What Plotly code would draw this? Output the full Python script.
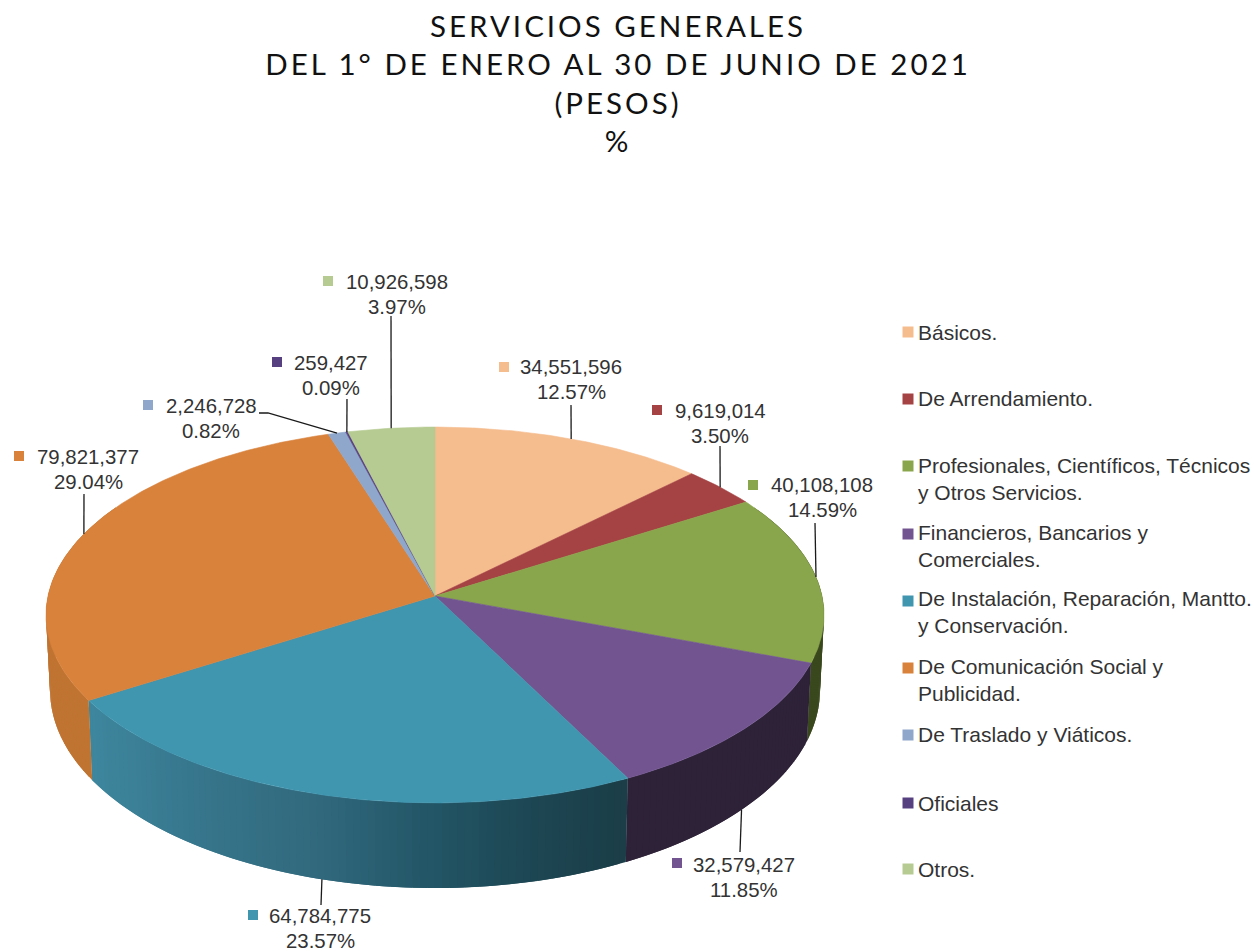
import numpy as np
import plotly.graph_objects as go

# ---------- data ----------
categories = ["Básicos.", "De Arrendamiento.", "Profesionales, Científicos, Técnicos<br>y Otros Servicios.",
              "Financieros, Bancarios y<br>Comerciales.", "De Instalación, Reparación, Mantto.<br>y Conservación.",
              "De Comunicación Social y<br>Publicidad.", "De Traslado y Viáticos.", "Oficiales", "Otros."]
values = [34551596, 9619014, 40108108, 32579427, 64784775, 79821377, 2246728, 259427, 10926598]
percents = ["12.57%", "3.50%", "14.59%", "11.85%", "23.57%", "29.04%", "0.82%", "0.09%", "3.97%"]
title_lines = ["SERVICIOS GENERALES", "DEL 1° DE ENERO AL 30 DE JUNIO DE 2021", "(PESOS)", "%"]

# ---------- style ----------
colors = ["#F5BC8E", "#A54243", "#8AA64C", "#725590", "#4095AF", "#D8823C", "#8FA7CB", "#574080", "#B6CB92"]
wall_stops = {  # slice index -> (x pixel, rgb) shading along the side wall
    0: [(0, (190, 145, 110))], 1: [(0, (120, 50, 50))],
    2: [(0, (58, 72, 30))], 3: [(0, (46, 34, 56))],
    4: [(90, (62, 135, 158)), (200, (55, 118, 140)), (320, (50, 105, 125)), (420, (36, 88, 105)),
        (520, (30, 72, 85)), (625, (27, 62, 72))],
    5: [(0, (192, 116, 50))], 6: [(0, (110, 130, 160))], 7: [(0, (60, 45, 85))], 8: [(0, (140, 160, 110))],
}
TEXT = "#333333"
FONT = "Liberation Sans"
CX, CY, RX, RY, K = 435, 596, 387, 186, 0.101          # top face projection
BX, BY, BRX, BRY = 435, 670, 383, 196                  # bottom rim projection
# label centre x, first line y, key x, key y, leader end x, leader end y, elbow x (or None), uses bottom rim
label_pos = [(571, 367, 504, 367, 571, 405, None, False), (720, 411, 657, 410, 720, 446, None, False),
             (822, 485, 753, 485, 815, 523, None, False), (744, 865, 677, 863, 740, 852, None, True),
             (320, 916, 253, 915, 321, 905, None, True), (88, 457, 19, 456, 84, 494, None, False),
             (211, 406, 148, 405, 259, 413, 268, False), (331, 363, 277, 362, 347, 399, None, False),
             (397, 282, 328, 281, 391, 316, None, False)]
LINE_GAP = 24.5
legend_y = [332, 399, 466, 534, 601, 668, 735, 803, 869]
legend_text_y = [332, 398, 479, 546, 612, 680, 734, 803, 869]
LEG_KEY_X, LEG_TEXT_X = 908, 916


def top(a):
    u, v = np.sin(a), -np.cos(a)
    s = 1 / (1 - K * v)
    return CX + RX * u * s, CY + RY * v * s


def bottom(a):
    u, v = np.sin(a), -np.cos(a)
    s = 1 / (1 - K * v)
    return BX + BRX * u * s, BY + BRY * v * s


def shade(i, x):
    st = wall_stops[i]
    xs = [p[0] for p in st]
    return "rgb(%d,%d,%d)" % tuple(np.interp(x, xs, [p[1][c] for p in st]) for c in range(3))


def wall(a0, a1, color):
    aa = np.linspace(a0, a1, 3)
    tx, ty = top(aa)
    bx, by = bottom(aa[::-1])
    fig.add_trace(go.Scatter(x=[*tx, *bx, tx[0]], y=[*ty, *by, ty[0]], mode="lines", fill="toself",
                             fillcolor=color, line=dict(width=0), hoverinfo="skip", showlegend=False))


total = sum(values)
edges = 2 * np.pi * np.concatenate([[0], np.cumsum(values)]) / total
fig = go.Figure()

# side walls: only the slices that face the viewer, as overlapping bands so the silhouette stays whole
STEP = np.radians(1.0)
for i in range(len(values)):
    a0c, a1c = max(edges[i], np.radians(60)), min(edges[i + 1], np.radians(300))
    if a0c >= a1c:
        continue
    a = a0c
    while a < a1c:
        end = min(a + 2 * STEP, a1c)
        mx = (top(a + STEP / 2)[0] + bottom(a + STEP / 2)[0]) / 2
        wall(a, end, shade(i, mx))
        a += STEP

# top face
for i, name in enumerate(categories):
    aa = np.linspace(edges[i], edges[i + 1], max(3, int((edges[i + 1] - edges[i]) / np.radians(0.5))))
    px, py = top(aa)
    fig.add_trace(go.Scatter(x=[CX, *px, CX], y=[CY, *py, CY], mode="lines", fill="toself",
                             fillcolor=colors[i], line=dict(color=colors[i], width=0.6),
                             name=name.replace("<br>", " "), hoverinfo="name", showlegend=False))

# leader lines, label keys, labels
anns = []
for i, (lx, ly, kx, ky, ex, ey, elbow, low) in enumerate(label_pos):
    mid = (edges[i] + edges[i + 1]) / 2
    sx, sy = bottom(mid) if low else top(mid)
    xs, ys = [sx], [sy]
    if elbow is not None:
        xs.append(elbow); ys.append(ey)
    xs.append(ex); ys.append(ey)
    fig.add_trace(go.Scatter(x=xs, y=ys, mode="lines", line=dict(color="#1a1a1a", width=1.3),
                             hoverinfo="skip", showlegend=False))
    for text, y in ((f"{values[i]:,}", ly), (percents[i], ly + LINE_GAP)):
        anns.append(dict(x=lx, y=y, xref="x", yref="y", showarrow=False, xanchor="center", yanchor="middle",
                         align="center", text=text, font=dict(family=FONT, size=20.4, color=TEXT)))
    fig.add_trace(go.Scatter(x=[kx], y=[ky], mode="markers", hoverinfo="skip", showlegend=False,
                             marker=dict(symbol="square", size=10, color=colors[i])))
    # legend
    fig.add_trace(go.Scatter(x=[LEG_KEY_X], y=[legend_y[i]], mode="markers", hoverinfo="skip", showlegend=False,
                             marker=dict(symbol="square", size=11, color=colors[i])))
    anns.append(dict(x=LEG_TEXT_X, y=legend_text_y[i], xref="x", yref="y", showarrow=False, xanchor="left",
                     yanchor="middle", align="left", text=categories[i],
                     font=dict(family=FONT, size=21, color=TEXT)))

fig.update_layout(
    width=1254, height=951, margin=dict(l=0, r=0, t=0, b=0),
    paper_bgcolor="white", plot_bgcolor="white", showlegend=False, annotations=anns,
    title=dict(text="<br>".join(title_lines), x=618 / 1254, xanchor="center", y=1 - 37 / 951, yanchor="top",
               font=dict(family="Lato", size=29.5, color="#111111")),
    xaxis=dict(range=[0, 1254], visible=False, fixedrange=True),
    yaxis=dict(range=[951, 0], visible=False, fixedrange=True),
)
fig.write_html("out.html", config=dict(displayModeBar=False), post_script="""
document.body.style.margin='0';document.body.style.overflow='hidden';
document.querySelectorAll('.gtitle').forEach(function(t){t.style.letterSpacing='3px';});
""")
